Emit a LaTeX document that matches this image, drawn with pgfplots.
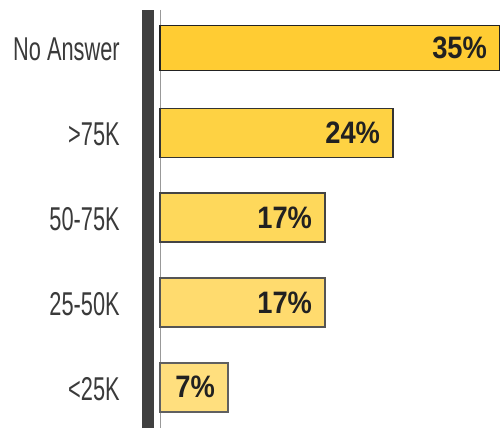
\documentclass[border=0pt]{standalone}
\usepackage{fontspec}
\usepackage{pgfplots}
\pgfplotsset{compat=1.18}

\newfontfamily\catfont[FakeStretch=0.66]{Liberation Sans}
\newfontfamily\valfont[FakeStretch=0.88]{Liberation Sans}

\definecolor{barA}{HTML}{FFCC33}
\definecolor{barB}{HTML}{FED243}
\definecolor{barC}{HTML}{FED85B}
\definecolor{barD}{HTML}{FFDB6E}
\definecolor{barE}{HTML}{FFDF7E}
\definecolor{edgeA}{HTML}{222222}
\definecolor{edgeB}{HTML}{333333}
\definecolor{edgeC}{HTML}{444444}
\definecolor{edgeD}{HTML}{555555}
\definecolor{edgeE}{HTML}{606060}
\definecolor{darkbar}{HTML}{404040}
\definecolor{catgray}{HTML}{3A3A3A}

\begin{document}
\begin{tikzpicture}
\begin{axis}[
    xbar,
    bar shift=0pt,
    scale only axis,
    width=340pt,
    height=418pt,
    xmin=0, xmax=35,
    ymin=-0.45, ymax=4.48,
    y dir=reverse,
    axis x line=none,
    axis y line=left,
    y axis line style={-, color=gray!80, line width=0.6pt},
    ytick={0,1,2,3,4},
    yticklabels={No Answer,>75K,50-75K,25-50K,<25K},
    ytick style={draw=none},
    yticklabel style={font=\catfont\fontsize{33}{33}\selectfont, text=catgray,
        inner sep=0pt, anchor=east, xshift=-38pt, yshift=-1.5pt},
    /pgf/number format/assume math mode=true,
    point meta=x,
    nodes near coords={\pgfmathprintnumber{\pgfplotspointmeta}\%},
    every node near coord/.append style={font=\valfont\bfseries\fontsize{31}{31}\selectfont,
        text=black!87, anchor=east, xshift=-9pt},
    clip=false,
]

\draw[line width=12pt, color=darkbar] ([xshift=-12pt]rel axis cs:0,0) -- ([xshift=-12pt]rel axis cs:0,1);

\addplot[fill=barA, draw=edgeA, line width=1.6pt, bar width=45pt] coordinates {(35,0)};
\addplot[fill=barB, draw=edgeB, line width=1.6pt, bar width=49pt] coordinates {(24,1)};
\addplot[fill=barC, draw=edgeC, line width=1.6pt, bar width=49pt] coordinates {(17,2)};
\addplot[fill=barD, draw=edgeD, line width=1.6pt, bar width=49pt] coordinates {(17,3)};
\addplot[fill=barE, draw=edgeE, line width=1.6pt, bar width=49pt] coordinates {(7,4)};

\end{axis}
\pgfresetboundingbox
\useasboundingbox ([xshift=-160pt]current axis.south west) rectangle ([yshift=10pt]current axis.north east);
\end{tikzpicture}
\end{document}
